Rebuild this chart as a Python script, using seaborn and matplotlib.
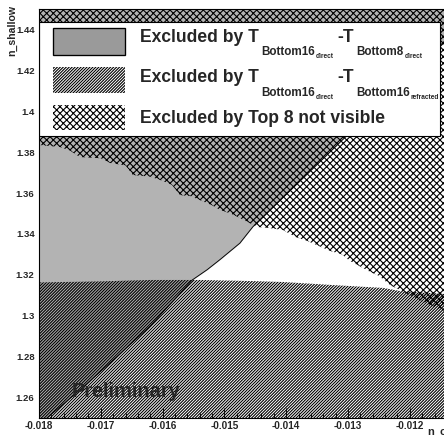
import numpy as np
import pandas as pd
import matplotlib.pyplot as plt
import matplotlib.transforms as mtransforms
import seaborn as sns
from matplotlib.patches import Rectangle
from matplotlib.ticker import MultipleLocator

# Data

# grey region (T_Bottom16direct - T_Bottom8direct): everything left of this edge
grey_y = [1.25, 1.265, 1.28, 1.295, 1.3175, 1.3225, 1.3275, 1.3355, 1.3435, 1.391, 1.45]
grey_x = [-0.01787, -0.01729, -0.01674, -0.0162, -0.01552, -0.01528, -0.01507,
          -0.01475, -0.01454, -0.01292, -0.0109]

# single hatch region (T_Bottom16direct - T_Bottom16refracted): below this edge
hatch_x = [-0.0180, -0.01701, -0.01620, -0.01540, -0.01459, -0.01405, -0.01324,
           -0.01243, -0.01216, -0.0114]
hatch_y = [1.3163, 1.3168, 1.3175, 1.3175, 1.3170, 1.3165, 1.3150, 1.3136, 1.3121, 1.3106]

# cross hatch region (Top 8 not visible): above this edge
cross_x = [-0.0180, -0.01766, -0.01750, -0.01734, -0.01700, -0.01685, -0.01660,
           -0.01648, -0.01620, -0.01604, -0.01585, -0.01572, -0.01555, -0.01540,
           -0.01520, -0.01507, -0.01490, -0.01475, -0.01447, -0.01430, -0.01405,
           -0.01385, -0.01366, -0.01329, -0.01310, -0.01297, -0.01264, -0.01250,
           -0.01232, -0.01200, -0.01167, -0.0114]
cross_y = [1.3835, 1.3825, 1.3808, 1.3776, 1.3770, 1.3747, 1.3735, 1.3688, 1.3680,
           1.3664, 1.3640, 1.3590, 1.3585, 1.3566, 1.3540, 1.3517, 1.3500, 1.3478,
           1.3434, 1.3430, 1.3419, 1.3385, 1.3366, 1.3317, 1.3300, 1.3268, 1.3214,
           1.3195, 1.3150, 1.3101, 1.3052, 1.3018]

x_ticks = [-0.018, -0.017, -0.016, -0.015, -0.014, -0.013, -0.012]
x_labels = ['-0.018', '-0.017', '-0.016', '-0.015', '-0.014', '-0.013', '-0.012']
y_ticks = [1.26, 1.28, 1.30, 1.32, 1.34, 1.36, 1.38, 1.40, 1.42, 1.44]
y_labels = ['1.26', '1.28', '1.3', '1.32', '1.34', '1.36', '1.38', '1.4', '1.42', '1.44']

x_min, x_max = -0.018, -0.0114
y_min, y_max = 1.25, 1.45

# Style

sns.set_theme(style='white')
plt.rcParams['font.family'] = ['Liberation Sans', 'DejaVu Sans']
plt.rcParams['font.weight'] = 'bold'
plt.rcParams['hatch.linewidth'] = 1.0
plt.rcParams['axes.edgecolor'] = 'black'

DPI = 80
fig = plt.figure(figsize=(444 / DPI, 436 / DPI), dpi=DPI)
ax = fig.add_axes([39 / 444, 18 / 436, 407.9 / 444, 409 / 436])

SINGLE = '/' * 9
CROSS = 'x' * 4

# Regions

ax.fill_betweenx(grey_y, x_min, grey_x, facecolor='#b3b3b3', linewidth=0, zorder=1)
sns.lineplot(x=grey_x, y=grey_y, color='black', linewidth=0.8, sort=False,
             ax=ax, zorder=1.5)

ax.fill_between(hatch_x, y_min, hatch_y, facecolor='none', edgecolor='black',
                hatch=SINGLE, linewidth=0, zorder=2)

ax.fill_between(cross_x, cross_y, y_max, facecolor='none', edgecolor='black',
                hatch=CROSS, linewidth=0, zorder=2)

ax.set_xlim(x_min, x_max)
ax.set_ylim(y_min, y_max)

# Axes

ax.set_xticks(x_ticks, x_labels)
ax.set_yticks(y_ticks, y_labels)
ax.xaxis.set_minor_locator(MultipleLocator(0.0002))
ax.tick_params(axis='x', which='major', direction='in', length=9, width=0.8,
               color='black', labelsize=9, pad=3, bottom=True)
ax.tick_params(axis='x', which='minor', direction='in', length=4.5, width=0.8,
               color='black', bottom=True)
ax.tick_params(axis='y', which='both', length=0, labelsize=8.5, pad=4)
for sp in ax.spines.values():
    sp.set_linewidth(1.0)
    sp.set_color('black')
    sp.set_zorder(8)

ax.set_xlabel('n_c', fontsize=10, fontweight='bold', loc='right')
ax.xaxis.set_label_coords(1.0, -0.022)
ax.set_ylabel('n_shallow', fontsize=9.5, fontweight='bold', loc='top')
ax.yaxis.set_label_coords(-0.054, 1.01)

# Legend box (drawn by hand to get the ROOT layout)

box = Rectangle((0.0, 0.6895), 0.983, 0.2787, transform=ax.transAxes,
                facecolor='white', edgecolor='black', linewidth=1.0, zorder=5)
ax.add_patch(box)

ax.add_patch(Rectangle((0.0343, 0.8875), 0.1765, 0.066, transform=ax.transAxes,
                       facecolor='#9a9a9a', edgecolor='black', linewidth=1.2, zorder=6))
ax.add_patch(Rectangle((0.0343, 0.7946), 0.1765, 0.0636, transform=ax.transAxes,
                       facecolor='white', edgecolor='black', hatch=SINGLE,
                       linewidth=0, zorder=6))
ax.add_patch(Rectangle((0.0343, 0.7042), 0.1765, 0.061, transform=ax.transAxes,
                       facecolor='white', edgecolor='black', hatch=CROSS,
                       linewidth=0, zorder=6))

renderer = fig.canvas.get_renderer()


def place_row(x0, y0, pieces):
    dx = 0
    for s, size, dy, gap in pieces:
        tr = mtransforms.offset_copy(ax.transAxes, fig=fig, x=dx, y=dy, units='dots')
        t = ax.text(x0, y0, s, transform=tr, fontsize=size, fontweight='bold',
                    ha='left', va='baseline', zorder=7, clip_on=True)
        t.set_clip_path(box)
        dx += t.get_window_extent(renderer).width + gap


main, sub, subsub = 15.8, 10.5, 6
place_row(0.2476, 0.9193, [('Excluded by T', main, 0, 2), ('Bottom16', sub, -13, 1),
                           ('direct', subsub, -16, 4), ('-T', main, 0, 2),
                           ('Bottom8', sub, -13, 1), ('direct', subsub, -16, 1)])
place_row(0.2476, 0.8215, [('Excluded by T', main, 0, 2), ('Bottom16', sub, -14, 1),
                           ('direct', subsub, -17, 4), ('-T', main, 0, 2),
                           ('Bottom16', sub, -14, 1), ('refracted', subsub, -17, 1)])
place_row(0.2476, 0.7213, [('Excluded by Top 8 not visible', main, 0, 0)])

ax.text(0.081, 0.0513, 'Preliminary', transform=ax.transAxes, fontsize=18,
        fontweight='bold', ha='left', va='baseline', zorder=7)

fig.savefig('out.png', dpi=DPI)
